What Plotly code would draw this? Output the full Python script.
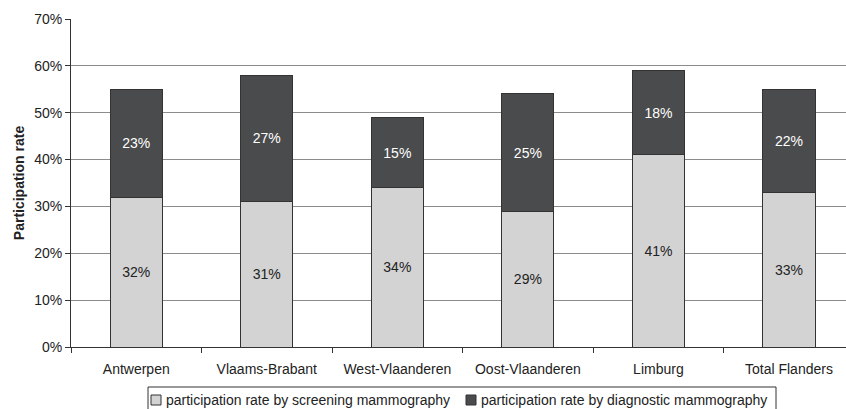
import plotly.graph_objects as go

regions = ["Antwerpen", "Vlaams-Brabant", "West-Vlaanderen", "Oost-Vlaanderen", "Limburg", "Total Flanders"]
screening = [32, 31, 34, 29, 41, 33]
diagnostic = [23, 27, 15, 25, 18, 22]
series_names = ["participation rate by screening mammography", "participation rate by diagnostic mammography"]
series_colors = ["#d3d3d3", "#4a4b4c"]
y_ticks = [0, 10, 20, 30, 40, 50, 60, 70]

FONT = "Liberation Sans, Arial, sans-serif"
W, H = 846, 409
ML, MR, MT, MB = 71, 0, 19, 62
PW, PH = W - ML - MR, H - MT - MB


def px_x(p):
    return (p - ML) / PW


def px_y(p):
    return (H - MB - p) / PH


fig = go.Figure()
fig.add_trace(go.Bar(
    x=regions, y=screening, name=series_names[0],
    marker=dict(color=series_colors[0], line=dict(color="#333333", width=1)),
    text=[f"{v}%" for v in screening], textposition="inside",
    insidetextanchor="middle", textangle=0,
    textfont=dict(family=FONT, size=14, color="#222222"),
    width=0.4,
))
fig.add_trace(go.Bar(
    x=regions, y=diagnostic, name=series_names[1],
    marker=dict(color=series_colors[1], line=dict(color="#333333", width=1)),
    text=[f"{v}%" for v in diagnostic], textposition="inside",
    insidetextanchor="middle", textangle=0,
    textfont=dict(family=FONT, size=14, color="#ffffff"),
    width=0.4,
))

# manual legend (compact, like the reference)
shapes = [dict(type="rect", xref="paper", yref="paper",
               x0=px_x(148), x1=px_x(776), y0=px_y(410), y1=px_y(387),
               line=dict(color="#333333", width=1), fillcolor="white", layer="above")]
annotations = []
legend_x = [151, 466]
for i, name in enumerate(series_names):
    sx = legend_x[i]
    shapes.append(dict(type="rect", xref="paper", yref="paper",
                       x0=px_x(sx), x1=px_x(sx + 10), y0=px_y(405), y1=px_y(395),
                       line=dict(color="#333333", width=1), fillcolor=series_colors[i], layer="above"))
    annotations.append(dict(xref="paper", yref="paper", x=px_x(sx + 13), y=px_y(400),
                            xanchor="left", yanchor="middle", showarrow=False, text=name,
                            font=dict(family=FONT, size=14, color="#222222")))

fig.update_layout(
    barmode="stack",
    width=W, height=H,
    margin=dict(l=ML, r=MR, t=MT, b=MB),
    paper_bgcolor="white", plot_bgcolor="white",
    font=dict(family=FONT, size=14, color="#222222"),
    uniformtext=dict(minsize=14, mode="show"),
    showlegend=False,
    shapes=shapes,
    annotations=annotations,
    xaxis=dict(
        type="category", range=[-0.5, 5.437],
        showline=True, linecolor="#333333", linewidth=1,
        ticks="outside", tickson="boundaries", ticklen=5, tickcolor="#333333",
        showgrid=False, tickfont=dict(family=FONT, size=14, color="#222222"),
        ticklabelstandoff=9,
    ),
    yaxis=dict(
        range=[0, 70], tickvals=y_ticks, ticktext=[f"{v}%" for v in y_ticks],
        showline=True, linecolor="#333333", linewidth=1,
        ticks="outside", ticklen=5, tickcolor="#333333",
        showgrid=True, gridcolor="#8c8c8c", gridwidth=1,
        zeroline=False,
        tickfont=dict(family=FONT, size=14, color="#222222"),
        title=dict(text="<b>Participation rate</b>", font=dict(family=FONT, size=14, color="#222222"), standoff=6),
    ),
)

fig.write_html("out.html")
